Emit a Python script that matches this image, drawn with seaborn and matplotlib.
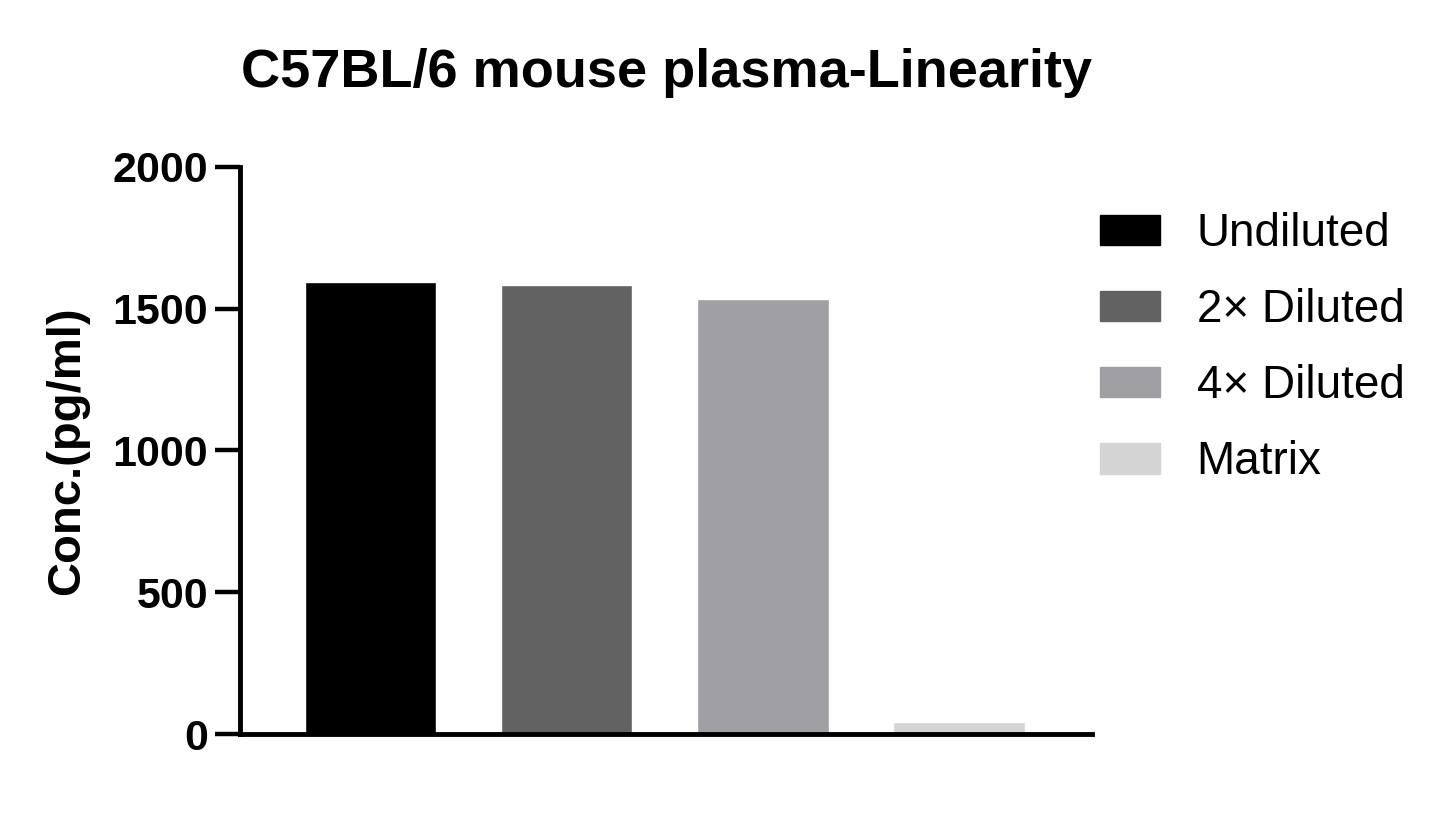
import numpy as np
import pandas as pd
import matplotlib
matplotlib.use('Agg')
import matplotlib.pyplot as plt
import seaborn as sns

# data
samples = ['Undiluted', '2\u00d7 Diluted', '4\u00d7 Diluted', 'Matrix']
conc = [1592, 1584, 1535, 42]
colors = ['#000000', '#626262', '#a0a0a4', '#d4d4d4']
yticks = [0, 500, 1000, 1500, 2000]

df = pd.DataFrame({'sample': samples, 'conc': conc})

sns.set_style('ticks')
plt.rcParams['font.family'] = ['Liberation Sans', 'DejaVu Sans']
plt.rcParams['text.color'] = 'black'
plt.rcParams['axes.labelcolor'] = 'black'
plt.rcParams['ytick.color'] = 'black'

fig = plt.figure(figsize=(14.45, 8.25), dpi=100)
ax = fig.add_axes([0.166, 0.110, 0.590, 0.688])

sns.barplot(data=df, x='sample', y='conc', hue='sample', palette=colors,
            width=0.67, dodge=False, legend=False, ax=ax, saturation=1)

ax.set_xlim(-0.665, 3.68)
ax.set_ylim(0, 2000)
ax.set_yticks(yticks)
ax.set_yticklabels([str(t) for t in yticks], fontsize=31, fontweight='bold')
ax.set_xticks([])
ax.set_xlabel('')
ax.set_ylabel('Conc.(pg/ml)', fontsize=34, fontweight='bold', labelpad=17)
ax.tick_params(axis='y', length=18, width=3.2, pad=5, color='black')
sns.despine(ax=ax)
for s in ['left', 'bottom']:
    ax.spines[s].set_linewidth(3.5)
    ax.spines[s].set_color('black')

ax.set_title('C57BL/6 mouse plasma-Linearity', fontsize=39, fontweight='bold', pad=57)

handles = [plt.Rectangle((0, 0), 1, 1, color=c) for c in colors]
fig.legend(handles, samples, loc='upper left', bbox_to_anchor=(1100 / 1445, 1 - 212 / 825),
           frameon=False, fontsize=33, handlelength=1.31, handleheight=0.655,
           handletextpad=0.8, labelspacing=0.70, borderpad=0, borderaxespad=0)

fig.savefig('out.png', dpi=100)
